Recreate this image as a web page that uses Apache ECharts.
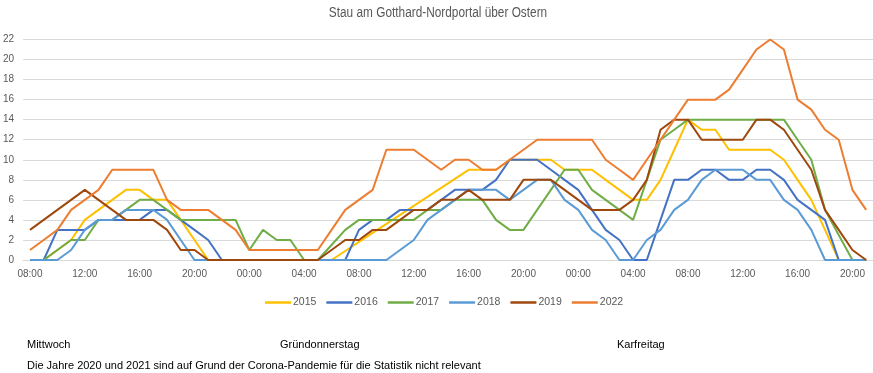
<!DOCTYPE html>
<html>
<head>
<meta charset="utf-8">
<script src="https://cdn.jsdelivr.net/npm/echarts@6/dist/echarts.min.js"></script>
<style>
html,body{margin:0;padding:0;background:#fff;}
#chart{width:873px;height:373px;}
</style>
</head>
<body>
<div id="chart"></div>
<script>
// Hourly categories: Wednesday 08:00 through Friday 21:00 (62 points)
const startHour = 8;
const pointCount = 62;
const categories = [];
for (let i = 0; i < pointCount; i++) {
  const h = (startHour + i) % 24;
  categories.push((h < 10 ? '0' : '') + h + ':00');
}
const yTicks = [0, 2, 4, 6, 8, 10, 12, 14, 16, 18, 20, 22];

const years = ['2015', '2016', '2017', '2018', '2019', '2022'];

const v2015 = [0,0,1,2,4,5,6,7,7,6,6,4,2,0,0,0,0,0,0,0,0,0,0,0.9,1.8,2.7,3.6,4.5,5.4,6.3,7.2,8.1,9,9,9,10,10,10,10,9,9,9,8,7,6,6,8,11,14,13,13,11,11,11,11,10,8,6,3,0,0,0];
const v2016 = [0,0,3,3,3,4,4,4,4,5,5,4,3,2,0,0,0,0,0,0,0,0,0,0,3,4,4,5,5,5,6,7,7,7,8,10,10,10,9,8,7,5,3,2,0,0,4,8,8,9,9,8,8,9,9,8,6,5,4,0,0,0];
const v2017 = [0,0,1,2,2,4,4,5,6,6,5,4,4,4,4,4,1,3,2,2,0,0,1.5,3,4,4,4,4,4,5,5,6,6,6,4,3,3,5,7,9,9,7,6,5,4,8,12,13,14,14,14,14,14,14,14,14,12,10,5,2.5,0,0];
const v2018 = [0,0,0,1,3,4,4,5,5,5,4,2,0,0,0,0,0,0,0,0,0,0,0,0,0,0,0,1,2,4,5,6,7,7,7,6,7,8,8,6,5,3,2,0,0,2,3,5,6,8,9,9,9,8,8,6,5,3,0,0,0,0];
const v2019 = [3,4,5,6,7,6,5,4,4,4,3,1,1,0,0,0,0,0,0,0,0,0,1,2,2,3,3,4,5,5,6,6,7,6,6,6,8,8,8,7,6,5,5,5,6,8,13,14,14,12,12,12,12,14,14,13,11,9,5,3,1,0];
const v2022 = [1,2,3,5,6,7,9,9,9,9,6,5,5,5,4,3,1,1,1,1,1,1,3,5,6,7,11,11,11,10,9,10,10,9,9,10,11,12,12,12,12,12,10,9,8,10,12,14,16,16,16,17,19,21,22,21,16,15,13,12,7,5];

const seriesValues = [v2015, v2016, v2017, v2018, v2019, v2022];
const colors = ['#FFC000', '#4472C4', '#70AD47', '#5B9BD5', '#9E480E', '#ED7D31'];

const sans = "'Liberation Sans',Arial,sans-serif";

const chart = echarts.init(document.getElementById('chart'), null, {renderer: 'canvas'});
chart.setOption({
  animation: false,
  color: colors,
  legend: {
    left: 260,
    top: 292,
    icon: 'rect',
    itemWidth: 26,
    itemHeight: 2.5,
    itemGap: 10,
    textStyle: {fontFamily: sans, fontSize: 10.5, color: '#595959', padding: [0,0,0,-3]},
    data: years
  },
  grid: {left: 22.5, right: -1.5, top: 39.5, bottom: 113, containLabel: false},
  xAxis: {
    type: 'category',
    data: categories,
    boundaryGap: true,
    axisLine: {show: true, lineStyle: {color: '#d9d9d9', width: 1}},
    axisTick: {show: false},
    axisLabel: {interval: 3, color: '#595959', fontFamily: sans, fontSize: 10, margin: 9},
    splitLine: {show: false}
  },
  yAxis: {
    type: 'value',
    min: 0,
    max: 22,
    interval: 2,
    axisLine: {show: false},
    axisTick: {show: false},
    axisLabel: {color: '#595959', fontFamily: sans, fontSize: 10, margin: 9,
      formatter: function (v) { return yTicks.indexOf(v) >= 0 ? String(v) : ''; }},
    splitLine: {lineStyle: {color: '#d9d9d9', width: 1}}
  },
  series: years.map(function (y, i) {
    return {
      name: y,
      type: 'line',
      data: seriesValues[i],
      symbol: 'none',
      smooth: false,
      lineStyle: {width: 2, color: colors[i]},
      itemStyle: {color: colors[i]},
      z: 2 + i
    };
  }),
  graphic: [
    {type: 'text', x: 438, y: 13, scaleX: 0.845,
      style: {text: 'Stau am Gotthard-Nordportal über Ostern', fontFamily: sans, fontSize: 14,
        fill: '#595959', align: 'center', verticalAlign: 'middle'}},
    {type: 'text', left: 27, top: 339, style: {text: 'Mittwoch', fontFamily: sans, fontSize: 11, fill: '#000'}},
    {type: 'text', left: 280, top: 339, style: {text: 'Gründonnerstag', fontFamily: sans, fontSize: 11, fill: '#000'}},
    {type: 'text', left: 617, top: 339, style: {text: 'Karfreitag', fontFamily: sans, fontSize: 11, fill: '#000'}},
    {type: 'text', left: 27, top: 360, style: {text: 'Die Jahre 2020 und 2021 sind auf Grund der Corona-Pandemie für die Statistik nicht relevant', fontFamily: sans, fontSize: 11, fill: '#000'}}
  ]
});
</script>
</body>
</html>
